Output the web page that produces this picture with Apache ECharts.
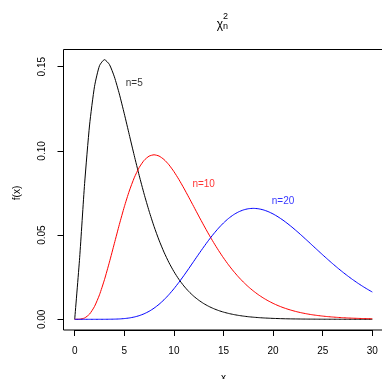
<!DOCTYPE html>
<html>
<head>
<meta charset="utf-8">
<script src="https://cdn.jsdelivr.net/npm/echarts@6/dist/echarts.min.js"></script>
<style>
  html, body { margin: 0; padding: 0; background: #fff; }
  #chart { width: 382px; height: 379px; }
</style>
</head>
<body>
<div id="chart"></div>
<script>
// x 取值 0..30，步长 0.5
var xs = [0, 0.5, 1, 1.5, 2, 2.5, 3, 3.5, 4, 4.5, 5, 5.5, 6, 6.5, 7, 7.5, 8, 8.5, 9, 9.5,
    10, 10.5, 11, 11.5, 12, 12.5, 13, 13.5, 14, 14.5, 15, 15.5, 16, 16.5, 17, 17.5, 18, 18.5, 19, 19.5,
    20, 20.5, 21, 21.5, 22, 22.5, 23, 23.5, 24, 24.5, 25, 25.5, 26, 26.5, 27, 27.5, 28, 28.5, 29, 29.5, 30];

var n5 = [0, 0.03662, 0.08066, 0.1154, 0.13837, 0.1506, 0.15418, 0.15131, 0.14398, 0.1338,
    0.12204, 0.10965, 0.09731, 0.08545, 0.07437, 0.06424, 0.05511, 0.04701, 0.03989, 0.03369,
    0.02834, 0.02375, 0.01983, 0.01651, 0.0137, 0.01135, 0.00937, 0.00772, 0.00635, 0.00521,
    0.00427, 0.0035, 0.00286, 0.00233, 0.0019, 0.00154, 0.00125, 0.00102, 0.00082, 0.00067,
    0.00054, 0.00044, 0.00035, 0.00028, 0.00023, 0.00019, 0.00015, 0.00012, 0.0001, 0.00008,
    0.00006, 0.00005, 0.00004, 0.00003, 0.00003, 0.00002, 0.00002, 0.00001, 0.00001, 0.00001, 0.00001];

var n10 = [0, 0.00006, 0.00079, 0.00311, 0.00766, 0.01457, 0.02353, 0.03395, 0.04511, 0.05628,
    0.0668, 0.07617, 0.08402, 0.09012, 0.09441, 0.09689, 0.09768, 0.09695, 0.0949, 0.09176,
    0.08773, 0.08305, 0.07791, 0.07248, 0.06693, 0.06137, 0.05591, 0.05064, 0.04561, 0.04088,
    0.03646, 0.03237, 0.02863, 0.02521, 0.02213, 0.01935, 0.01687, 0.01466, 0.0127, 0.01098,
    0.00946, 0.00813, 0.00697, 0.00597, 0.0051, 0.00434, 0.00369, 0.00313, 0.00265, 0.00225,
    0.0019, 0.0016, 0.00135, 0.00113, 0.00095, 0.0008, 0.00067, 0.00056, 0.00046, 0.00039, 0.00032];

var n20 = [0, 0, 0, 0, 0, 0.000003, 0.00001, 0.00004, 0.0001, 0.00021,
    0.00043, 0.00079, 0.00135, 0.00216, 0.00328, 0.00475, 0.00662, 0.00889, 0.01158, 0.01467,
    0.01813, 0.02191, 0.02593, 0.03013, 0.03442, 0.03871, 0.0429, 0.04693, 0.0507, 0.05415,
    0.05722, 0.05986, 0.06204, 0.06373, 0.06493, 0.06565, 0.06588, 0.06565, 0.065, 0.06396,
    0.06256, 0.06084, 0.05886, 0.05665, 0.05426, 0.05173, 0.0491, 0.04641, 0.04368, 0.04096,
    0.03826, 0.03561, 0.03303, 0.03053, 0.02813, 0.02585, 0.02367, 0.02162, 0.01969, 0.01789, 0.0162];

// 曲线旁的文字标注
var labelNames = ['n=5', 'n=10', 'n=20'];
var labelAt = [[6, 0.14], [13, 0.08], [21, 0.07]];
var colors = ['#000000', '#ff0000', '#0000ff'];

var font = 'Liberation Sans, Arial, Helvetica, sans-serif';

function pairs(ys) {
    return xs.map(function (x, i) { return [x, ys[i]]; });
}

var myChart = echarts.init(document.getElementById('chart'));

var lineSeries = [n5, n10, n20].map(function (ys, i) {
    return {
        type: 'line',
        data: pairs(ys),
        showSymbol: false,
        smooth: 0.2,
        clip: false,
        silent: true,
        lineStyle: { color: colors[i], width: 1 },
        z: 2 + i
    };
});

var labelSeries = labelNames.map(function (name, i) {
    return {
        type: 'scatter',
        data: [labelAt[i]],
        symbolSize: 0,
        silent: true,
        clip: false,
        label: {
            show: true,
            position: 'inside',
            formatter: name,
            color: colors[i],
            fontSize: 10,
            fontFamily: font
        }
    };
});

var option = {
    backgroundColor: '#fff',
    animation: false,
    grid: { left: 74.7, right: 9.7, top: 66.7, bottom: 59.7, outerBoundsMode: 'none', containLabel: false },
    xAxis: {
        type: 'value',
        min: 0,
        max: 30,
        interval: 5,
        offset: 10.7,
        name: 'x',
        nameLocation: 'middle',
        nameGap: 43,
        nameTextStyle: { color: '#000', fontSize: 10, fontFamily: font },
        axisLine: { show: true, onZero: false, lineStyle: { color: '#000', width: 1 } },
        axisTick: { show: true, length: 6, lineStyle: { color: '#000' } },
        axisLabel: { color: '#000', fontSize: 10, fontFamily: font, margin: 16 },
        splitLine: { show: false }
    },
    yAxis: {
        type: 'value',
        min: 0,
        max: 0.15,
        interval: 0.05,
        offset: 11.2,
        name: 'f(x)',
        nameLocation: 'middle',
        nameGap: 41,
        nameTextStyle: { color: '#000', fontSize: 10, fontFamily: font },
        axisLine: { show: true, onZero: false, lineStyle: { color: '#000', width: 1 } },
        axisTick: { show: true, length: 6, lineStyle: { color: '#000' } },
        axisLabel: {
            color: '#000', fontSize: 10, fontFamily: font, rotate: 90, margin: 16,
            formatter: function (v) { return v.toFixed(2); }
        },
        splitLine: { show: false }
    },
    graphic: [
        {
            type: 'rect',
            shape: { x: 63.5, y: 49.5, width: 321, height: 280.5 },
            style: { fill: 'none', stroke: '#000', lineWidth: 1 },
            silent: true
        },
        {
            type: 'text', x: 223, y: 24.5,
            style: { text: 'χ', fill: '#000', font: '12px ' + font, align: 'right', verticalAlign: 'middle' }
        },
        {
            type: 'text', x: 223, y: 17,
            style: { text: '2', fill: '#000', font: '9px ' + font, align: 'left', verticalAlign: 'middle' }
        },
        {
            type: 'text', x: 223, y: 27,
            style: { text: 'n', fill: '#000', font: '9px ' + font, align: 'left', verticalAlign: 'middle' }
        }
    ],
    series: lineSeries.concat(labelSeries)
};

myChart.setOption(option);
window.onresize = function () {
    myChart.resize();
};
</script>
</body>
</html>
